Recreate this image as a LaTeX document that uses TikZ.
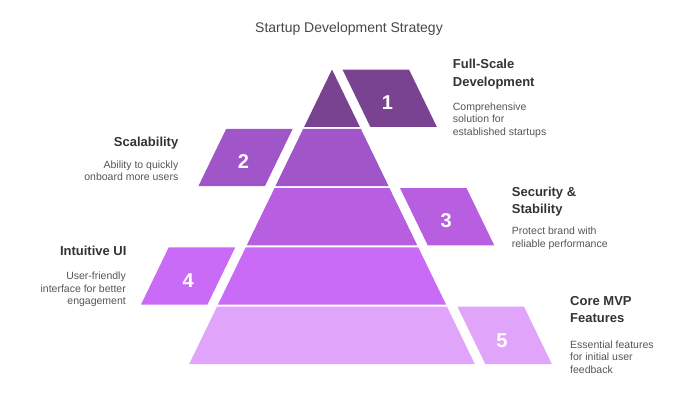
\documentclass[tikz,border=0pt]{standalone}
\usepackage{fontspec}
\setmainfont{Liberation Sans}
\definecolor{lvlone}{HTML}{7A4391}
\definecolor{lvltwo}{HTML}{A056C9}
\definecolor{lvlthree}{HTML}{B75EE1}
\definecolor{lvlfour}{HTML}{C96BF7}
\definecolor{lvlfive}{HTML}{E0A4FB}
\definecolor{titlegray}{HTML}{474747}
\definecolor{headgray}{HTML}{333333}
\definecolor{descgray}{HTML}{555555}
\begin{document}
\begin{tikzpicture}[x=1pt, y=-1pt, line join=round,
	head/.style={inner sep=0pt, font=\bfseries\fontsize{13}{17.5}\selectfont, text=headgray},
	desc/.style={inner sep=0pt, font=\fontsize{10.5}{12.7}\selectfont, text=descgray},
	num/.style={font=\bfseries\fontsize{20}{24}\selectfont, text=white}]
				\useasboundingbox (0,0) rectangle (700,400);
				\node [font=\fontsize{14}{17}\selectfont, text=titlegray, anchor=base] (title) at (349,32.3) {Startup Development Strategy};
				% pyramid layers
				\fill [lvlone] (332,69.5)--(359.8,126.8)--(304.2,126.8)--cycle;
				\fill [lvltwo] (303.2,128.8)--(360.8,128.8)--(388.6,186.1)--(275.4,186.1)--cycle;
				\fill [lvlthree] (274.5,188.1)--(389.5,188.1)--(417.3,245.4)--(246.7,245.4)--cycle;
				\fill [lvlfour] (245.7,247.4)--(418.3,247.4)--(446.1,304.7)--(217.9,304.7)--cycle;
				\fill [lvlfive] (217,306.7)--(447,306.7)--(474.8,364)--(189.2,364)--cycle;
				% side boxes
				\fill [lvlone] (342.5,69.5)--(409,69.5)--(436.8,126.8)--(370.3,126.8)--cycle;
				\fill [lvltwo] (226.2,128.8)--(292.7,128.8)--(264.9,186.1)--(198.4,186.1)--cycle;
				\fill [lvlthree] (400,188.1)--(466.5,188.1)--(494.3,245.4)--(427.8,245.4)--cycle;
				\fill [lvlfour] (168.7,247.4)--(235.2,247.4)--(207.4,304.7)--(140.9,304.7)--cycle;
				\fill [lvlfive] (457.5,306.7)--(524,306.7)--(551.8,364)--(485.3,364)--cycle;
				\node [num] (n1) at (387.5,102.5) {1};
				\node [num] (n2) at (243.5,161.7) {2};
				\node [num] (n3) at (446.3,220.8) {3};
				\node [num] (n4) at (188.3,280.8) {4};
				\node [num] (n5) at (502,340.5) {5};
				% labels
				\node [head, anchor=north west, align=left] (h1) at (452.7,59) {Full-Scale\\Development};
				\node [desc, anchor=north west, align=left] (d1) at (452.7,102.4) {Comprehensive\\solution for\\established startups};
				\node [head, anchor=north east, align=right] (h2) at (178.5,137.2) {Scalability};
				\node [desc, anchor=north east, align=right] (d2) at (178.5,160.2) {Ability to quickly\\onboard more users};
				\node [head, anchor=north east, align=right] (h4) at (126.7,246) {Intuitive UI};
				\node [desc, anchor=north east, align=right] (d4) at (126,271.7) {User-friendly\\interface for better\\engagement};
				\node [head, anchor=north west, align=left] (h3) at (511.7,186.5) {Security \&\\Stability};
				\node [desc, anchor=north west, align=left] (d3) at (511.7,226.5) {Protect brand with\\reliable performance};
				\node [head, anchor=north west, align=left] (h5) at (570,296.2) {Core MVP\\Features};
				\node [desc, anchor=north west, align=left] (d5) at (570,340.4) {Essential features\\for initial user\\feedback};
			\end{tikzpicture}
\end{document}
